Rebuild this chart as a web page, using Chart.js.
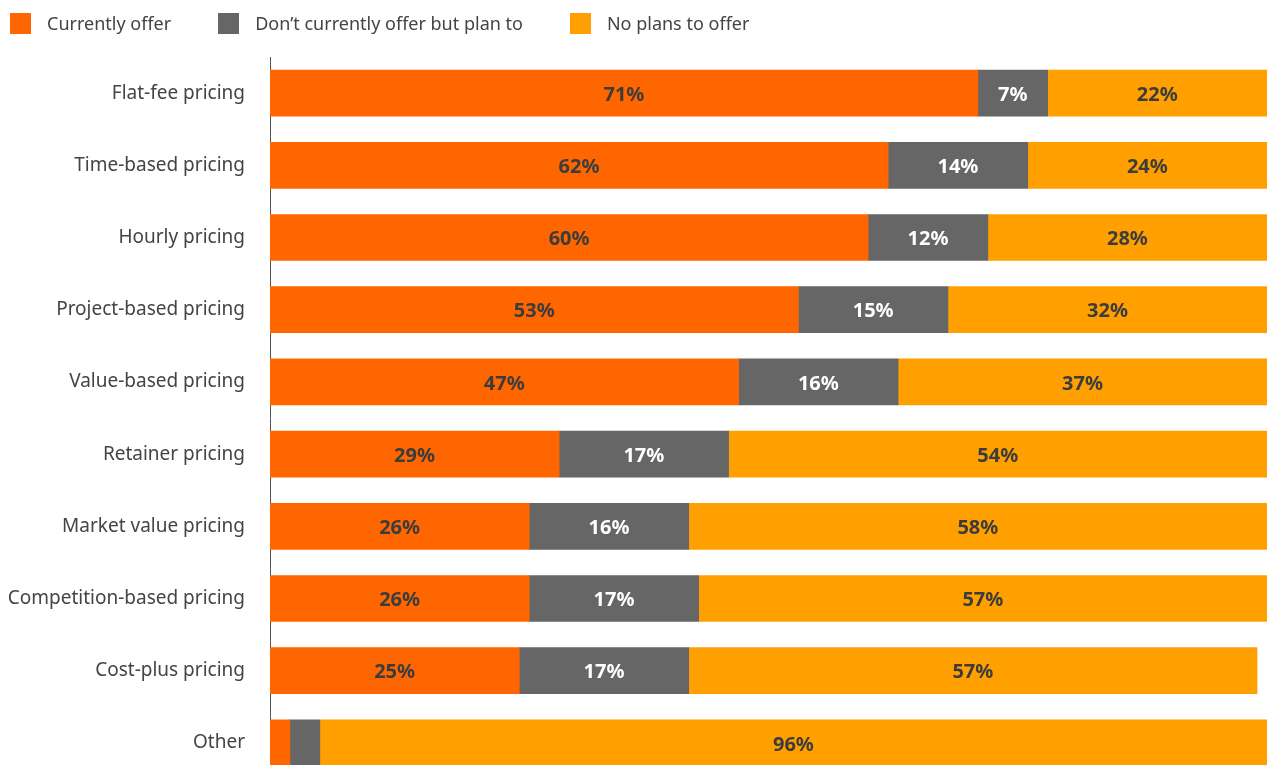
<!DOCTYPE html>
<html lang="en">
<head>
<meta charset="utf-8">
<title>Pricing models offered</title>
<script src="https://cdn.jsdelivr.net/npm/chart.js@4.4.1/dist/chart.umd.min.js"></script>
<style>
  html, body { margin: 0; padding: 0; background: #fff; overflow: hidden; }
  body { width: 1267px; height: 765px; position: relative; font-family: "Noto Sans", sans-serif; }
  #legend { position: absolute; top: 13px; left: 10px; display: flex; gap: 47px; z-index: 2; }
  .legend-item { display: flex; align-items: center; gap: 16px; font-size: 18px; color: #444; line-height: 21px; }
  .legend-swatch { width: 21px; height: 21px; }
  #chartWrap { position: absolute; left: 0; top: 0; width: 1267px; height: 780px; }
  #pricingChart { display: block; width: 1267px; height: 780px; }
</style>
</head>
<body>
<div id="legend"></div>
<div id="chartWrap"><canvas id="pricingChart" width="1267" height="780"></canvas></div>
<script>
  // Pricing models, share of respondents (%)
  const categories = [
    'Flat-fee pricing',
    'Time-based pricing',
    'Hourly pricing',
    'Project-based pricing',
    'Value-based pricing',
    'Retainer pricing',
    'Market value pricing',
    'Competition-based pricing',
    'Cost-plus pricing',
    'Other'
  ];
  const currentlyOffer = [71, 62, 60, 53, 47, 29, 26, 26, 25, 2];
  const planToOffer = [7, 14, 12, 15, 16, 17, 16, 17, 17, 3];
  const noPlans = [22, 24, 28, 32, 37, 54, 58, 57, 57, 96];

  const seriesNames = ['Currently offer', 'Don\u2019t currently offer but plan to', 'No plans to offer'];
  const seriesColors = ['#FF6600', '#666666', '#FFA000'];
  const labelColors = ['#3c3c3c', '#ffffff', '#3c3c3c'];
  const seriesData = [currentlyOffer, planToOffer, noPlans];

  // Legend above the chart
  const legendEl = document.getElementById('legend');
  seriesNames.forEach((name, i) => {
    const item = document.createElement('div');
    item.className = 'legend-item';
    const swatch = document.createElement('span');
    swatch.className = 'legend-swatch';
    swatch.style.background = seriesColors[i];
    const text = document.createElement('span');
    text.textContent = name;
    item.appendChild(swatch);
    item.appendChild(text);
    legendEl.appendChild(item);
  });

  // Percent labels centred inside each segment
  const segmentLabels = {
    id: 'segmentLabels',
    afterDatasetsDraw(chart) {
      const { ctx, chartArea } = chart;
      ctx.save();
      ctx.font = 'bold 20px "Noto Sans", sans-serif';
      ctx.textAlign = 'center';
      ctx.textBaseline = 'middle';
      chart.data.datasets.forEach((ds, di) => {
        const meta = chart.getDatasetMeta(di);
        meta.data.forEach((bar, i) => {
          const value = ds.data[i];
          if (value < 5) return;
          const left = Math.max(Math.min(bar.x, bar.base), chartArea.left);
          const right = Math.min(Math.max(bar.x, bar.base), chartArea.right);
          ctx.fillStyle = ds.labelColor;
          ctx.fillText(value + '%', (left + right) / 2, bar.y + 2);
        });
      });
      ctx.restore();
    }
  };

  const canvas = document.getElementById('pricingChart');
  new Chart(canvas, {
    type: 'bar',
    data: {
      labels: categories,
      datasets: seriesData.map((data, i) => ({
        label: seriesNames[i],
        data: data,
        backgroundColor: seriesColors[i],
        labelColor: labelColors[i],
        borderWidth: 0,
        barThickness: 46
      }))
    },
    options: {
      indexAxis: 'y',
      responsive: false,
      maintainAspectRatio: false,
      animation: false,
      layout: { padding: { top: 57, bottom: 1, left: 0, right: 0 } },
      plugins: {
        legend: { display: false },
        tooltip: { enabled: false }
      },
      scales: {
        x: { stacked: true, min: 0, max: 100, display: false },
        y: {
          stacked: true,
          z: 1,
          grid: { display: false, drawTicks: false },
          border: { display: true, color: '#555', width: 1 },
          ticks: {
            padding: 25,
            color: '#444',
            font: { family: 'Noto Sans', size: 19 }
          },
          afterFit(scale) {
            // fixed label column; tick padding should not eat vertical space
            scale.width = 270;
            scale.paddingTop = 0;
            scale.paddingBottom = 0;
          }
        }
      }
    },
    plugins: [segmentLabels]
  });
</script>
</body>
</html>
